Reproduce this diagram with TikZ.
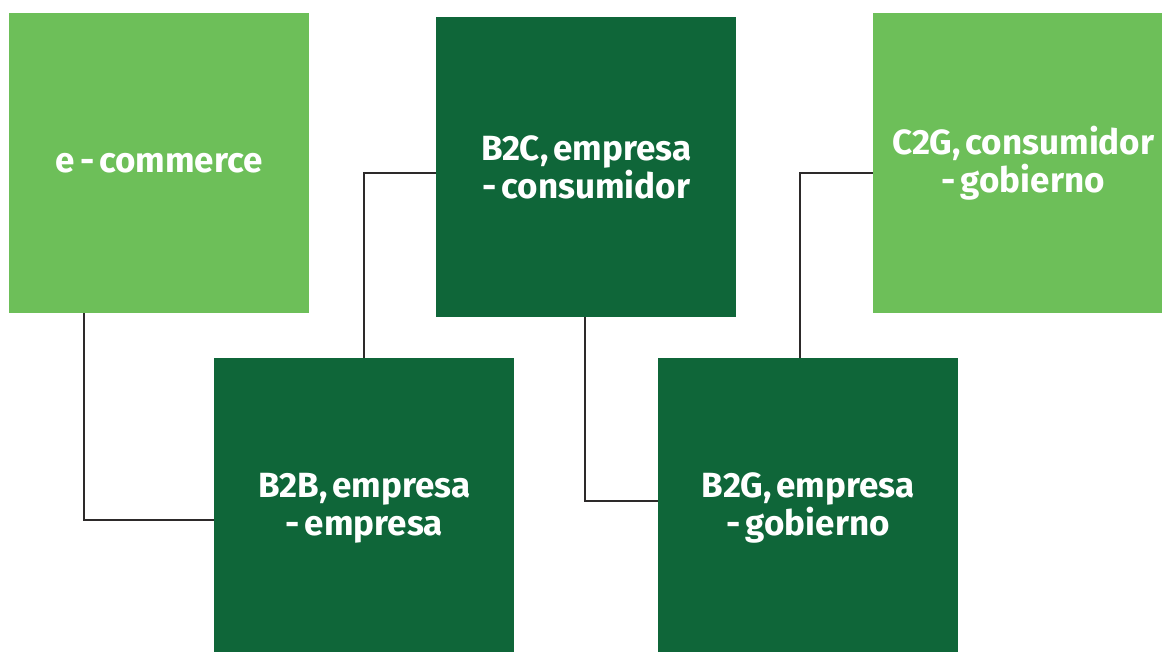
\documentclass[tikz,border=0pt]{standalone}
\usepackage{fontspec}
\setmainfont{Fira Sans}[WordSpace=0.6]
\usepackage{xcolor}
\usepackage{tikz}
\usetikzlibrary{positioning}
\definecolor{verdeclaro}{RGB}{109,191,89}
\definecolor{verdeoscuro}{RGB}{15,102,57}
\definecolor{linea}{RGB}{45,42,42}

\begin{document}
\begin{tikzpicture}[x=1pt, y=-1pt,
    caja/.style={minimum width=300pt, minimum height=300pt, inner sep=0pt, anchor=north west,
        align=center, text=white, font=\bfseries\fontsize{35}{38}\selectfont},
    clara/.style={caja, fill=verdeclaro},
    oscura/.style={caja, fill=verdeoscuro},
    conector/.style={draw=linea, line width=2pt}]

        \clip (0,0) rectangle (1162,652);

        % Cajas
        \node[clara] (ecom) at (9,13) {e - commerce};
        \node[oscura] (btoc) at (436,17) {B2C, empresa\\- consumidor};
        \node[clara] (ctog) at (873,13) {C2G, consumidor\\- gobierno};
        \node[oscura] (btob) at (214,358) {B2B, empresa\\- empresa};
        \node[oscura] (btog) at (658,358) {B2G, empresa\\- gobierno};

        % Conectores
        \draw[conector] ([xshift=-75pt]ecom.south) |- ([yshift=-12pt]btob.west);
        \draw[conector] (btob.north) |- ([yshift=-6pt]btoc.west);
        \draw[conector] ([xshift=-1pt]btoc.south) |- ([yshift=7pt]btog.west);
        \draw[conector] ([xshift=-8pt]btog.north) |- ([yshift=-10pt]ctog.west);
    \end{tikzpicture}
\end{document}
